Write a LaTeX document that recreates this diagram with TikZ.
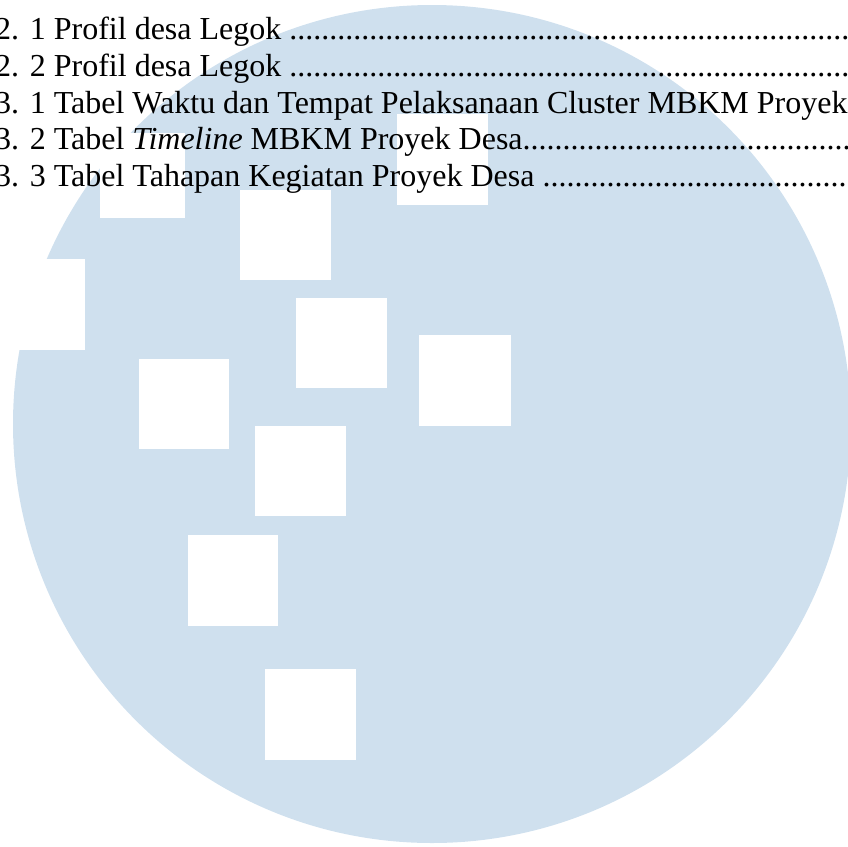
\documentclass[tikz,border=0pt]{standalone}
\usepackage{fontspec}
\setmainfont{Liberation Serif}
\definecolor{wmblue}{RGB}{207,224,238}
\tikzset{
  hole/.style={fill=white},
  tocline/.style={anchor=base west, inner sep=0pt, font=\fontsize{32}{37}\selectfont}
}
\newcommand{\tendots}{..........}
\newcommand{\tocdots}{\tendots\tendots\tendots\tendots\tendots\tendots\tendots\tendots\tendots}
\begin{document}
\begin{tikzpicture}[x=1pt,y=-1pt]
\useasboundingbox (0,0) rectangle (848,846);
% watermark disc
\fill[wmblue] (432,424) circle (419);
% white squares
\fill[hole] (100,133) rectangle (185,218);
\fill[hole] (397,114) rectangle (488,205);
\fill[hole] (240,190) rectangle (331,280);
\fill[hole] (-10,259) rectangle (85,350);
\fill[hole] (296,298) rectangle (387,388);
\fill[hole] (419,335) rectangle (511,426);
\fill[hole] (139,359) rectangle (229,449);
\fill[hole] (255,426) rectangle (346,516);
\fill[hole] (188,535) rectangle (278,626);
\fill[hole] (265,669) rectangle (356,760);
% text lines
\node[tocline] (l1) at (-5,39) {2. 1 Profil desa Legok \tocdots};
\node[tocline] (l2) at (-5,76) {2. 2 Profil desa Legok \tocdots};
\node[tocline] (l3) at (-5,113) {3. 1 Tabel Waktu dan Tempat Pelaksanaan Cluster MBKM Proyek Desa \tocdots};
\node[tocline] (l4) at (-5,149) {3. 2 Tabel \textit{Timeline} MBKM Proyek Desa\tocdots};
\node[tocline] (l5) at (-5,186) {3. 3 Tabel Tahapan Kegiatan Proyek Desa \tocdots};
\end{tikzpicture}
\end{document}
